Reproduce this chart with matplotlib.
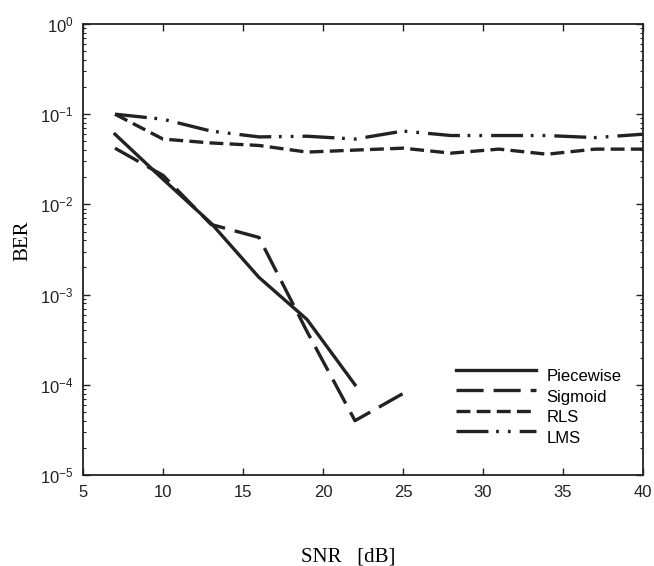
import matplotlib
matplotlib.use("Agg")
import matplotlib.pyplot as plt
from matplotlib.ticker import LogLocator, NullFormatter, FixedLocator
from matplotlib.transforms import ScaledTranslation

# SNR points (dB)
snr_short = [7, 10, 13, 16, 19, 22]
snr_sig = [7, 10, 13, 16, 19, 22, 25]
snr_full = [7, 10, 13, 16, 19, 22, 25, 28, 31, 34, 37, 40]

ber_piecewise = [0.06, 0.019, 0.0062, 0.00155, 0.00053, 0.0001]
ber_sigmoid = [0.042, 0.021, 0.006, 0.0043, 0.00039, 0.00004, 0.00008]
ber_rls = [0.1, 0.053, 0.048, 0.045, 0.038, 0.040, 0.042, 0.037, 0.041, 0.036, 0.041, 0.041]
ber_lms = [0.1, 0.088, 0.065, 0.056, 0.057, 0.053, 0.065, 0.058, 0.058, 0.058, 0.055, 0.060]

plt.rcParams['lines.scale_dashes'] = False
plt.rcParams['mathtext.fontset'] = 'custom'
plt.rcParams['mathtext.rm'] = 'Liberation Sans'
plt.rcParams['mathtext.it'] = 'Liberation Sans'
plt.rcParams['mathtext.default'] = 'rm'

fig = plt.figure(figsize=(6.54, 5.66), dpi=100)
ax = fig.add_axes([0.1269, 0.1608, 0.8563, 0.7968])

lw = 2.4
c = '#222222'
ax.plot(snr_short, ber_piecewise, color=c, lw=lw, label='Piecewise')
ax.plot(snr_sig, ber_sigmoid, color=c, lw=lw, dashes=(19.5, 7.2), label='Sigmoid')
ax.plot(snr_full, ber_rls, color=c, lw=lw, dashes=(10, 4.5), label='RLS')
ax.plot(snr_full, ber_lms, color=c, lw=lw, dashes=(23, 5.5, 2, 6.5, 2, 6.5), label='LMS')

ax.set_yscale('log')
ax.set_xlim(5, 40)
ax.set_ylim(1e-5, 1)
ax.xaxis.set_major_locator(FixedLocator([5, 10, 15, 20, 25, 30, 35, 40]))
ax.yaxis.set_major_locator(LogLocator(base=10, numticks=10))
ax.yaxis.set_minor_locator(LogLocator(base=10, subs=range(2, 10), numticks=10))
ax.yaxis.set_minor_formatter(NullFormatter())

ax.tick_params(which='both', direction='in', top=True, right=True, colors=c)
ax.tick_params(which='major', length=5, width=1, labelsize=12)
ax.tick_params(axis='x', which='major', pad=7)
ax.tick_params(axis='y', which='major', pad=7)
ax.tick_params(which='minor', length=2.5, width=0.8)
for lab in ax.get_xticklabels() + ax.get_yticklabels():
    lab.set_family('Liberation Sans')
for s in ax.spines.values():
    s.set_linewidth(1.3)
    s.set_color(c)

ax.set_ylabel('BER', family='Liberation Serif', fontsize=15, va='center')
ax.yaxis.set_label_coords(-0.107, 0.519)
ax.set_xlabel('SNR   [dB]', family='Liberation Serif', fontsize=15, va='top')
ax.xaxis.set_label_coords(0.474, -0.160)

leg = ax.legend(loc='upper left', bbox_to_anchor=(448 / 654, 1 - 355 / 566),
                bbox_transform=fig.transFigure, frameon=False, borderpad=0,
                handlelength=4.75, handletextpad=0.66, labelspacing=0.33,
                prop={'family': 'Liberation Sans', 'size': 12})
for t in leg.get_texts():
    t.set_transform(t.get_transform() + ScaledTranslation(0, -6 / 100, fig.dpi_scale_trans))

fig.savefig('out.png', dpi=100)
